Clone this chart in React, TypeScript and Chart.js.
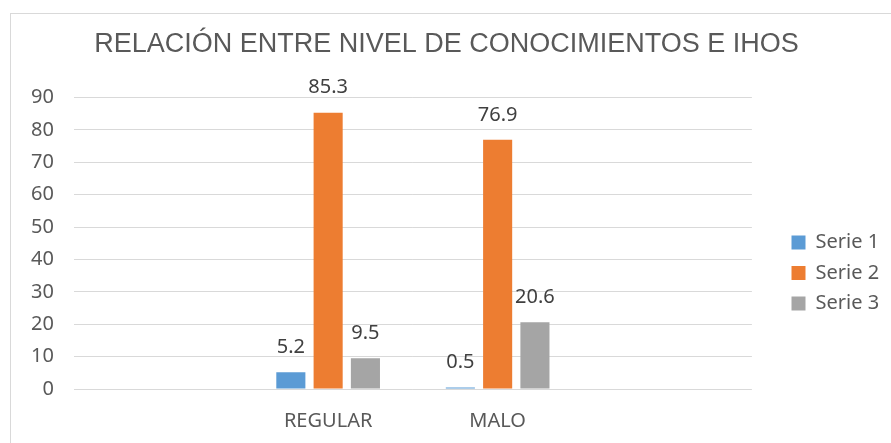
import React, { useEffect, useRef } from "react";
import { Chart, registerables } from "chart.js";

Chart.register(...registerables);

const categories = ["", "REGULAR", "MALO", ""];
const serie1 = [null, 5.2, 0.5, null];
const serie2 = [null, 85.3, 76.9, null];
const serie3 = [null, 9.5, 20.6, null];
const seriesNames = ["Serie 1", "Serie 2", "Serie 3"];
const titleText = "RELACIÓN ENTRE NIVEL DE CONOCIMIENTOS E IHOS";

const FONT = "'Noto Sans', sans-serif";

const valueLabels = {
  id: "valueLabels",
  afterDatasetsDraw(chart: any) {
    const ctx = chart.ctx;
    ctx.save();
    ctx.font = `20px ${FONT}`;
    ctx.fillStyle = "#404040";
    ctx.textAlign = "center";
    ctx.textBaseline = "bottom";
    chart.data.datasets.forEach((ds: any, i: number) => {
      const meta = chart.getDatasetMeta(i);
      meta.data.forEach((bar: any, j: number) => {
        const v = ds.data[j];
        if (v === null || v === undefined) return;
        ctx.fillText(String(v), bar.x, bar.y - 15);
      });
    });
    ctx.restore();
  },
};

// Nudge legend and title boxes after layout to mimic the original placement
const boxNudge = {
  id: "boxNudge",
  afterLayout(chart: any) {
    const lg = chart.legend;
    if (lg) {
      const dx = 781 - lg.left;
      lg.left += dx;
      lg.right += dx;
      const h = lg.bottom - lg.top;
      lg.top = 222;
      lg.bottom = lg.top + h;
    }
    const tb = chart.titleBlock;
    if (tb) {
      tb.left += 11;
      tb.right += 11;
    }
  },
};

export default function App() {
  const ref = useRef<HTMLCanvasElement | null>(null);
  useEffect(() => {
    if (!ref.current) return;
    const chart = new Chart(ref.current, {
      type: "bar",
      data: {
        labels: categories,
        datasets: [
          { label: seriesNames[0], data: serie1, backgroundColor: "#5b9bd5" },
          { label: seriesNames[1], data: serie2, backgroundColor: "#ed7d31" },
          { label: seriesNames[2], data: serie3, backgroundColor: "#a5a5a5" },
        ],
      },
      options: {
        animation: false,
        responsive: false,
        maintainAspectRatio: false,
        datasets: {
          bar: { categoryPercentage: 0.66, barPercentage: 0.78 },
        },
        layout: { padding: { top: 28, left: 11, right: 31, bottom: -2 } },
        plugins: {
          title: {
            display: true,
            text: titleText,
            color: "#595959",
            font: { family: "'Liberation Sans Narrow', sans-serif", size: 27, weight: "normal" },
            padding: { top: 0, bottom: 37 },
          },
          legend: {
            position: "right",
            align: "start",
            labels: {
              boxWidth: 14,
              boxHeight: 14,
              color: "#595959",
              font: { family: FONT, size: 20 },
              padding: 10.5,
            },
          },
          tooltip: { enabled: false },
        },
        scales: {
          x: {
            grid: { display: false },
            border: { display: false },
            ticks: { color: "#595959", font: { family: FONT, size: 20 }, padding: 12 },
          },
          y: {
            min: 0,
            max: 90,
            ticks: { stepSize: 10, color: "#595959", font: { family: FONT, size: 20 }, padding: 20 },
            grid: { color: "#d9d9d9", drawTicks: false },
            border: { display: false },
          },
        },
      },
      plugins: [valueLabels, boxNudge],
    });
    return () => chart.destroy();
  }, []);
  return (
    <div style={{ position: "fixed", left: 0, top: 0, width: 891, height: 443, background: "#fff", overflow: "hidden" }}>
      <div style={{ position: "absolute", left: 10, top: 13, width: 900, height: 500, border: "1px solid #d9d9d9" }} />
      <canvas ref={ref} width={891} height={443} style={{ position: "absolute", left: 0, top: 0 }} />
    </div>
  );
}
